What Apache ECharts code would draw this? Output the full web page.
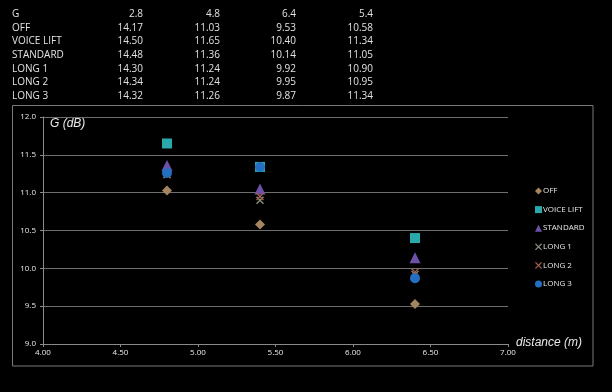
<!DOCTYPE html>
<html><head><meta charset="utf-8">
<script src="https://cdn.jsdelivr.net/npm/echarts@6/dist/echarts.min.js"></script>
<style>html,body{margin:0;padding:0;background:#000;}#c{width:612px;height:392px;}</style>
</head><body><div id="c"></div>
<script>
var distances = [2.8, 4.8, 6.4, 5.4];
var seriesNames = ['OFF', 'VOICE LIFT', 'STANDARD', 'LONG 1', 'LONG 2', 'LONG 3'];
var offVals = [14.17, 11.03, 9.53, 10.58];
var voiceLiftVals = [14.50, 11.65, 10.40, 11.34];
var standardVals = [14.48, 11.36, 10.14, 11.05];
var long1Vals = [14.30, 11.24, 9.92, 10.90];
var long2Vals = [14.34, 11.24, 9.95, 10.95];
var long3Vals = [14.32, 11.26, 9.87, 11.34];
var allVals = [offVals, voiceLiftVals, standardVals, long1Vals, long2Vals, long3Vals];

var xPath = 'path://M0,1.2L1.2,0L5,3.8L8.8,0L10,1.2L6.2,5L10,8.8L8.8,10L5,6.2L1.2,10L0,8.8L3.8,5Z';
var styles = [
  {symbol: 'diamond', size: 10, color: '#a4855f'},
  {symbol: 'rect', size: 10, color: '#2aa9ad'},
  {symbol: 'triangle', size: 11, color: '#6b52a8'},
  {symbol: xPath, size: 8, color: '#8c8c80'},
  {symbol: xPath, size: 8, color: '#a2604c'},
  {symbol: 'circle', size: 10, color: '#2370c2'}
];

var chart = echarts.init(document.getElementById('c'), null, {renderer: 'canvas'});

var graphics = [];
var rowY0 = 14, rowStep = 13.7;
var colRight = [143, 220, 296, 373];
var tblFont = '10px "Open Sans", "Noto Sans", sans-serif';
var rows = [['G', distances.map(function(v){return v.toFixed(1);})]];
seriesNames.forEach(function(n, i){ rows.push([n, allVals[i].map(function(v){return v.toFixed(2);})]); });
rows.forEach(function(r, ri){
  var y = rowY0 + ri * rowStep;
  graphics.push({type: 'text', x: 12, y: y, style: {text: r[0], fill: '#e2e2e2', font: tblFont, align: 'left', verticalAlign: 'middle'}, silent: true});
  r[1].forEach(function(t, ci){
    graphics.push({type: 'text', x: colRight[ci], y: y, style: {text: t, fill: '#e2e2e2', font: tblFont, align: 'right', verticalAlign: 'middle'}, silent: true});
  });
});
graphics.push({type: 'rect', shape: {x: 12.5, y: 105.5, width: 580.5, height: 260.5}, style: {fill: null, stroke: '#7a7a7a', lineWidth: 1}, silent: true, z: -1});
graphics.push({type: 'text', x: 50, y: 124, style: {text: 'G (dB)', fill: '#e8e8e8', font: 'italic 12px "Liberation Sans", Arial, sans-serif', verticalAlign: 'middle'}, silent: true});
graphics.push({type: 'text', x: 516, y: 343, style: {text: 'distance (m)', fill: '#e8e8e8', font: 'italic 12px "Liberation Sans", Arial, sans-serif', verticalAlign: 'middle'}, silent: true});

var series = seriesNames.map(function(n, i){
  return {
    name: n, type: 'scatter', clip: true,
    symbol: styles[i].symbol, symbolSize: styles[i].size,
    itemStyle: {color: styles[i].color, opacity: 1},
    data: distances.map(function(d, k){ return [d, allVals[i][k]]; })
  };
});

chart.setOption({
  backgroundColor: '#000',
  animation: false,
  grid: {left: 43, right: 104, top: 117, bottom: 48, containLabel: false},
  xAxis: {
    type: 'value', min: 4, max: 7, interval: 0.5,
    axisLine: {show: true, lineStyle: {color: '#8a8a8a'}},
    axisTick: {show: true, length: 3, lineStyle: {color: '#8a8a8a'}},
    axisLabel: {color: '#e8e8e8', fontSize: 8, fontFamily: '"Open Sans", sans-serif', margin: 5, formatter: function(v){return v.toFixed(2);}},
    splitLine: {show: false}
  },
  yAxis: {
    type: 'value', min: 9, max: 12, interval: 0.5,
    axisLine: {show: true, lineStyle: {color: '#8a8a8a'}},
    axisTick: {show: true, length: 3, lineStyle: {color: '#8a8a8a'}},
    axisLabel: {color: '#e8e8e8', fontSize: 8, fontFamily: '"Open Sans", sans-serif', margin: 7, formatter: function(v){return v.toFixed(1);}},
    splitLine: {show: true, lineStyle: {color: '#6e6e6e', width: 1}}
  },
  legend: {
    orient: 'vertical', left: 530, top: 182,
    itemWidth: 7, itemHeight: 7, itemGap: 10.6,
    textStyle: {color: '#e8e8e8', fontSize: 8, fontFamily: '"Open Sans", sans-serif', padding: [0, 0, 0, -4]},
    data: seriesNames
  },
  graphic: graphics,
  series: series
});
</script></body></html>
